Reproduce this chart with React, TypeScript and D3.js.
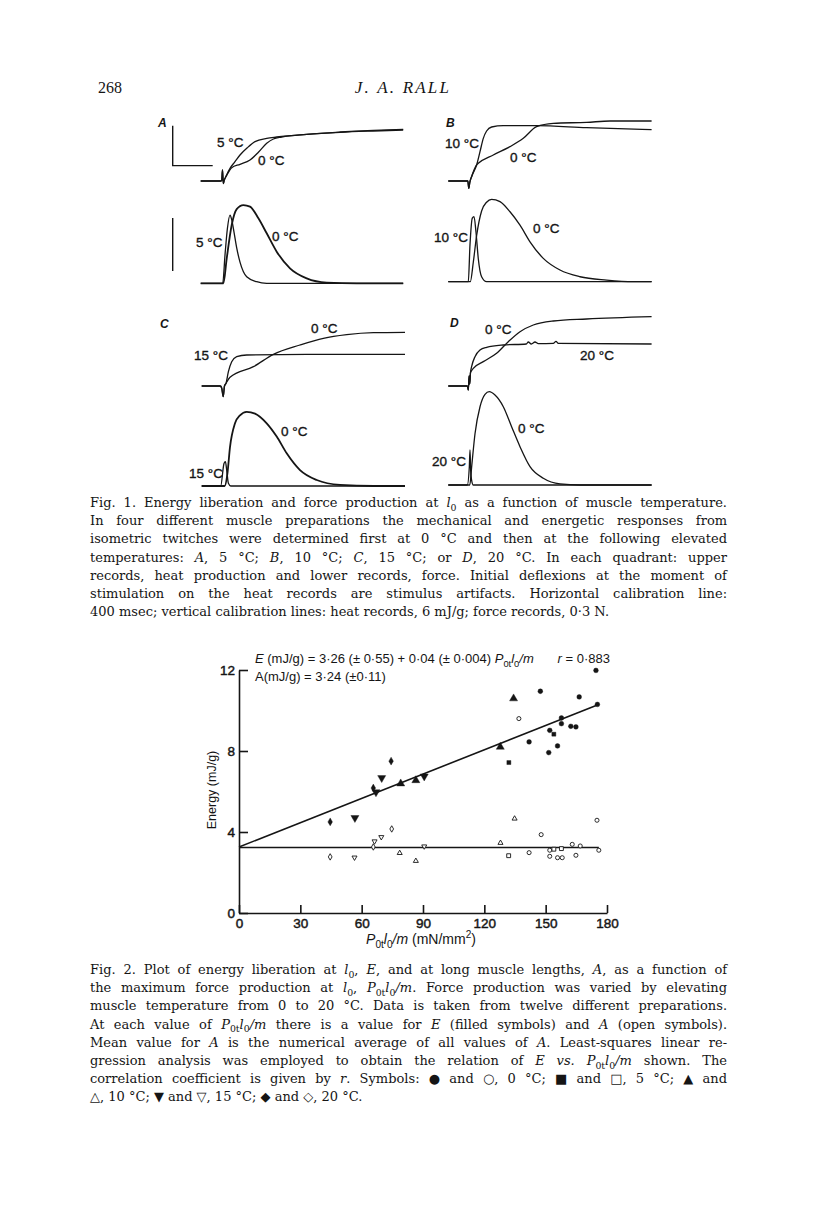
import React, { useRef, useEffect } from "react";
import * as d3 from "d3";

type Pt = [number, number];

// ---------- Fig. 1 records: [ms after stimulus, value] ----------
// heat records, mJ/g above baseline (stimulus artifact included)
const heatA5: Pt[] = [[-210, 0], [-10, 0], [0, 0.1], [8, 1.65], [16, -0.4], [25, 0.1], [40, 0.6], [83, 1.9], [133, 2.9], [183, 3.9], [257, 5.0], [333, 5.9], [450, 6.4], [550, 6.6], [850, 7.0], [1183, 7.3], [1517, 7.5], [1815, 7.65]];
const heatA0: Pt[] = [[-210, 0], [-10, 0], [0, 0.1], [8, 1.65], [16, -0.4], [25, 0.1], [50, 0.85], [100, 2.0], [183, 2.5], [283, 3.15], [367, 4.3], [450, 5.65], [517, 6.3], [600, 6.6], [850, 7.0], [1183, 7.35], [1517, 7.6], [1815, 7.75]];
const heatB10: Pt[] = [[-200, 0], [-5, 0], [5, -1.1], [15, -0.2], [33, 0.65], [83, 2.4], [117, 4.4], [150, 6.4], [183, 7.5], [233, 8.1], [350, 8.3], [683, 8.3], [1183, 8.0], [1833, 7.7]];
const heatB0: Pt[] = [[-200, 0], [-5, 0], [5, -1.1], [15, -0.2], [33, 0.65], [83, 2.4], [100, 2.65], [250, 3.9], [417, 5.15], [550, 6.4], [683, 8.15], [850, 8.65], [1183, 8.8], [1417, 9.0], [1833, 9.0]];
const heatC15: Pt[] = [[-200, 0], [-15, 0], [0, -0.3], [15, -1.6], [28, 0], [43, 0.4], [67, 2.15], [100, 3.65], [150, 4.4], [250, 4.65], [850, 4.75], [1833, 4.75]];
const heatC0: Pt[] = [[-200, 0], [-15, 0], [0, -0.3], [15, -1.6], [28, 0], [43, 0.4], [83, 1.3], [317, 2.9], [517, 4.75], [783, 6.15], [1017, 7.15], [1250, 7.7], [1517, 8.0], [1833, 8.05]];
const heatD20: Pt[] = [[-200, 0], [-10, 0], [0, -0.6], [8, 1.5], [14, 0.3], [22, 2.0], [33, 2.9], [67, 4.4], [117, 5.4], [183, 5.8], [350, 6.15], [580, 6.3], [600, 6.6], [630, 6.3], [667, 6.6], [700, 6.35], [850, 6.4], [877, 6.7], [900, 6.4], [1833, 6.3]];
const heatD0: Pt[] = [[-200, 0], [-10, 0], [0, -0.6], [8, 1.5], [14, 0.3], [22, 2.0], [33, 2.3], [50, 2.65], [150, 3.65], [283, 4.9], [400, 6.65], [517, 8.15], [650, 9.15], [850, 9.75], [1183, 10.05], [1833, 10.4]];

// force records, N
const forceA5: Pt[] = [[-210, 0], [10, 0], [33, 0.16], [57, 0.31], [83, 0.386], [100, 0.36], [123, 0.29], [150, 0.2], [183, 0.12], [250, 0.037], [350, 0.009], [450, 0], [1815, 0]];
const forceA0: Pt[] = [[-210, 0], [17, 0], [50, 0.14], [100, 0.33], [150, 0.42], [217, 0.443], [283, 0.434], [367, 0.368], [450, 0.283], [550, 0.179], [683, 0.085], [850, 0.028], [1050, 0.004], [1350, 0], [1815, 0]];
const forceB10: Pt[] = [[-200, 0], [0, 0], [17, 0.21], [40, 0.36], [57, 0.368], [77, 0.28], [100, 0.13], [133, 0.028], [183, 0], [1833, 0]];
const forceB0: Pt[] = [[-200, 0], [20, 0], [50, 0.11], [83, 0.26], [133, 0.4], [183, 0.45], [233, 0.466], [317, 0.453], [417, 0.396], [517, 0.32], [617, 0.226], [750, 0.132], [917, 0.066], [1117, 0.028], [1383, 0.009], [1650, 0], [1833, 0]];
const forceC15: Pt[] = [[-200, 0], [-10, 0], [23, 0.128], [37, 0.138], [50, 0.09], [67, 0.015], [90, 0], [1833, 0]];
const forceC0: Pt[] = [[-200, 0], [30, 0], [57, 0.07], [83, 0.22], [133, 0.355], [183, 0.4], [250, 0.42], [333, 0.41], [450, 0.355], [550, 0.28], [650, 0.185], [783, 0.09], [950, 0.034], [1183, 0.006], [1517, 0], [1833, 0]];
const forceD20: Pt[] = [[-200, 0], [-10, 0], [10, 0.1], [17, 0.198], [24, 0.08], [33, 0.028], [50, 0], [1833, 0]];
const forceD0: Pt[] = [[-200, 0], [15, 0], [33, 0.1], [67, 0.29], [117, 0.443], [167, 0.513], [210, 0.528], [267, 0.509], [350, 0.443], [433, 0.33], [517, 0.217], [617, 0.104], [750, 0.038], [917, 0.006], [1117, 0], [1833, 0]];

// calibration lines
const CAL_MS = 400;
const CAL_HEAT = 6;
const CAL_FORCE = 0.3;

// ---------- Fig. 2: P0t l0/m (mN/mm2) vs energy (mJ/g) ----------
const E_0C: Pt[] = [[141.9, 8.45], [147.4, 10.95], [151.5, 7.92], [152, 9.02], [155.8, 8.25], [157.7, 9.35], [157.7, 9.63], [162.3, 9.22], [164.8, 9.19], [166.4, 10.67], [174.6, 11.98], [175.3, 10.3]];
const E_5C: Pt[] = [[132, 7.43], [154, 8.83]];
const E_10C: Pt[] = [[79.1, 6.39], [86.5, 6.55], [127.8, 8.2], [134.3, 10.59]];
const E_15C: Pt[] = [[56.7, 4.7], [67, 5.97], [69.8, 6.67], [90.6, 6.75]];
const E_20C: Pt[] = [[44.6, 4.5], [65.7, 6.17], [74.4, 7.5]];
const A_0C: Pt[] = [[136.9, 9.6], [141.9, 2.98], [147.8, 3.87], [152, 3.1], [152, 2.8], [155.8, 2.73], [158.1, 2.73], [163, 3.39], [164.8, 2.85], [166.9, 3.31], [175.1, 4.58], [176, 3.1]];
const A_5C: Pt[] = [[131.9, 2.83], [154, 3.15], [157.7, 3.18]];
const A_10C: Pt[] = [[78.6, 2.96], [86.5, 2.57], [127.9, 3.46], [134.8, 4.66]];
const A_15C: Pt[] = [[56.5, 2.74], [66.3, 3.54], [69.6, 3.75], [90.6, 3.29]];
const A_20C: Pt[] = [[44.6, 2.77], [65.7, 3.26], [74.7, 4.15]];

const xTicks = [0, 30, 60, 90, 120, 150, 180];
const yTicks = [0, 4, 8, 12];

const E_INTERCEPT = 3.26, E_INTERCEPT_SE = 0.55;
const E_SLOPE = 0.04, E_SLOPE_SE = 0.004;
const R_VALUE = 0.883;
const A_MEAN = 3.24, A_MEAN_SE = 0.11;

const fmt = (v: number) => String(v).replace(".", "·");

const caption1 = [
  "Fig. 1. Energy liberation and force production at <i>l</i><s>0</s> as a function of muscle temperature.",
  "In four different muscle preparations the mechanical and energetic responses from",
  "isometric twitches were determined first at 0 °C and then at the following elevated",
  "temperatures: <i>A</i>, 5 °C; <i>B</i>, 10 °C; <i>C</i>, 15 °C; or <i>D</i>, 20 °C. In each quadrant: upper",
  "records, heat production and lower records, force. Initial deflexions at the moment of",
  "stimulation on the heat records are stimulus artifacts. Horizontal calibration line:",
  "400 msec; vertical calibration lines: heat records, 6 mJ/g; force records, 0·3 N.",
];
const caption2 = [
  "Fig. 2. Plot of energy liberation at <i>l</i><s>0</s>, <i>E</i>, and at long muscle lengths, <i>A</i>, as a function of",
  "the maximum force production at <i>l</i><s>0</s>, <i>P</i><s>0t</s><i>l</i><s>0</s><i>/m</i>. Force production was varied by elevating",
  "muscle temperature from 0 to 20 °C. Data is taken from twelve different preparations.",
  "At each value of <i>P</i><s>0t</s><i>l</i><s>0</s><i>/m</i> there is a value for <i>E</i> (filled symbols) and <i>A</i> (open symbols).",
  "Mean value for <i>A</i> is the numerical average of all values of <i>A</i>. Least-squares linear re-",
  "gression analysis was employed to obtain the relation of <i>E vs.</i> <i>P</i><s>0t</s><i>l</i><s>0</s><i>/m</i> shown. The",
  "correlation coefficient is given by <i>r</i>. Symbols: ● and ○, 0 °C; ■ and □, 5 °C; ▲ and",
  "△, 10 °C; ▼ and ▽, 15 °C; ◆ and ◇, 20 °C.",
];

const INK = "#151515";
const SERIF = "'DejaVu Serif', 'Liberation Serif', serif";
const HEAD = "'Liberation Serif', 'Times New Roman', serif";
const SANS = "'Liberation Sans', Arial, sans-serif";

// builds tspans from a tiny markup: <i>italic</i>, <s>sub</s>, <u>sup</u>
function rich(sel: any, markup: string, size: number) {
  const parts = markup.split(/(<[isu]>[^<]*<\/[isu]>)/).filter((s) => s.length);
  let cur = 0;
  parts.forEach((p) => {
    const m = p.match(/^<([isu])>([^<]*)<\/[isu]>$/);
    const ts = sel.append("tspan");
    let off = 0;
    if (m) {
      if (m[1] === "i") ts.attr("font-style", "italic");
      if (m[1] === "s") { off = size * 0.28; ts.attr("font-size", size * 0.72); }
      if (m[1] === "u") { off = -size * 0.4; ts.attr("font-size", size * 0.72); }
      ts.text(m[2]);
    } else ts.text(p);
    if (off !== cur) { ts.attr("dy", off - cur); cur = off; }
  });
}

function justify(t: any, width: number) {
  const node = t.node();
  const len = node.getComputedTextLength();
  const n = (node.textContent.match(/ /g) || []).length;
  if (n) t.attr("word-spacing", ((width - len) / n).toFixed(2));
}

function App() {
  const ref = useRef<SVGSVGElement>(null);

  useEffect(() => {
    const svg = d3.select(ref.current);
    svg.selectAll("*").remove();
    svg.append("rect").attr("width", 816).attr("height", 1212).attr("fill", "#fff");

    // ---- page head ----
    svg.append("text").attr("x", 98).attr("y", 93).attr("font-family", HEAD)
      .attr("font-size", 16).attr("fill", INK).text("268");
    svg.append("text").attr("x", 403).attr("y", 93).attr("text-anchor", "middle")
      .attr("font-family", HEAD).attr("font-style", "italic").attr("font-size", 17)
      .attr("letter-spacing", 2.2).attr("fill", INK).text("J. A. RALL");

    // ---- Fig. 1 ----
    const quads = [
      { stimX: 221.7, heatBase: 181, forceBase: 283.3, heat: [heatA5, heatA0], force: [forceA5, forceA0], thick: 1,
        letter: "A", letterAt: [158, 127], cal: true,
        labels: [["5 °C", 217, 147], ["0 °C", 258, 165], ["5 °C", 196, 247], ["0 °C", 272, 241]] },
      { stimX: 468.3, heatBase: 181, forceBase: 281.7, heat: [heatB10, heatB0], force: [forceB10, forceB0], thick: -1,
        letter: "B", letterAt: [446, 127], cal: false,
        labels: [["10 °C", 445, 148], ["0 °C", 510, 162], ["10 °C", 434, 242], ["0 °C", 533, 233]] },
      { stimX: 221.7, heatBase: 386, forceBase: 486, heat: [heatC15, heatC0], force: [forceC15, forceC0], thick: 1,
        letter: "C", letterAt: [160, 328], cal: false,
        labels: [["15 °C", 194, 360], ["0 °C", 311, 333], ["15 °C", 189, 478], ["0 °C", 281, 436]] },
      { stimX: 468.3, heatBase: 386, forceBase: 485, heat: [heatD20, heatD0], force: [forceD20, forceD0], thick: -1,
        letter: "D", letterAt: [450, 327], cal: false,
        labels: [["0 °C", 485, 334], ["20 °C", 580, 360], ["20 °C", 432, 466], ["0 °C", 518, 433]] },
    ];

    quads.forEach((q) => {
      const g = svg.append("g");
      const x = d3.scaleLinear().domain([0, CAL_MS]).range([q.stimX, q.stimX + 40]);
      const yh = d3.scaleLinear().domain([0, CAL_HEAT]).range([q.heatBase, q.heatBase - 40]);
      const yf = d3.scaleLinear().domain([0, CAL_FORCE]).range([q.forceBase, q.forceBase - 53]);
      const lineH = d3.line<Pt>().x((d) => x(d[0])).y((d) => yh(d[1])).curve(d3.curveMonotoneX);
      const lineF = d3.line<Pt>().x((d) => x(d[0])).y((d) => yf(d[1])).curve(d3.curveMonotoneX);

      q.heat.forEach((rec) => {
        g.append("path").attr("d", lineH(rec)).attr("fill", "none").attr("stroke", INK).attr("stroke-width", 1.3);
      });
      q.force.forEach((rec, i) => {
        g.append("path").attr("d", lineF(rec)).attr("fill", "none").attr("stroke", INK)
          .attr("stroke-width", q.thick > 0 && i === 1 ? 1.8 : 1.3);
      });

      if (q.cal) {
        const cx = x(-490);
        g.append("path").attr("fill", "none").attr("stroke", INK).attr("stroke-width", 1.4)
          .attr("d", `M${cx},${yh(2.3 + CAL_HEAT)}V${yh(2.3)}H${x(-490 + CAL_MS)}`);
        g.append("line").attr("x1", cx).attr("x2", cx).attr("y1", yf(0.07)).attr("y2", yf(0.07 + CAL_FORCE))
          .attr("stroke", INK).attr("stroke-width", 1.4);
      }

      g.append("text").attr("x", q.letterAt[0]).attr("y", q.letterAt[1]).attr("font-family", SANS)
        .attr("font-style", "italic").attr("font-weight", "bold").attr("font-size", 12)
        .attr("fill", INK).text(q.letter);
      q.labels.forEach(([t, lx, ly]) => {
        g.append("text").attr("x", lx).attr("y", ly).attr("font-family", SANS).attr("font-size", 13.5)
          .attr("fill", INK).attr("stroke", INK).attr("stroke-width", 0.35).text(t as string);
      });
    });

    const drawCaption = (lines: string[], y0: number) => {
      lines.forEach((ln, i) => {
        const t = svg.append("text").attr("x", 90).attr("y", y0 + i * 18.2)
          .attr("font-family", SERIF).attr("font-size", 13).attr("fill", INK);
        rich(t, ln, 13);
        if (i < lines.length - 1) justify(t, 637);
      });
    };
    drawCaption(caption1, 507);

    // ---- Fig. 2 ----
    const x = d3.scaleLinear().domain([0, 180]).range([239, 607]);
    const y = d3.scaleLinear().domain([0, 12]).range([913, 670]);
    const p = svg.append("g");

    const ax = p.append("g").attr("transform", `translate(0,${y(0)})`)
      .call(d3.axisBottom(x).tickValues(xTicks).tickSize(-8).tickSizeOuter(0).tickPadding(5));
    const ay = p.append("g").attr("transform", `translate(${x(0)},0)`)
      .call(d3.axisLeft(y).tickValues(yTicks).tickSize(-9).tickSizeOuter(0).tickPadding(4));
    [ax, ay].forEach((a) => {
      a.attr("font-family", SANS).attr("font-size", 13.5);
      a.selectAll("path,line").attr("stroke", INK).attr("stroke-width", 1.6);
      a.selectAll("text").attr("fill", INK).attr("stroke", INK).attr("stroke-width", 0.45);
    });

    const xt = p.append("text").attr("x", 421).attr("y", 944).attr("text-anchor", "middle")
      .attr("font-family", SANS).attr("font-size", 14).attr("fill", INK);
    rich(xt, "<i>P</i><s>0t</s><i>l</i><s>0</s><i>/m</i> (mN/mm<u>2</u>)", 14);
    p.append("text").attr("transform", "translate(216,790) rotate(-90)").attr("text-anchor", "middle")
      .attr("font-family", SANS).attr("font-size", 12.5).attr("fill", INK).text("Energy (mJ/g)");

    const eq1 = p.append("text").attr("x", 255).attr("y", 663).attr("font-family", SANS)
      .attr("font-size", 13).attr("fill", INK);
    rich(eq1, `<i>E</i> (mJ/g) = ${fmt(E_INTERCEPT)} (± ${fmt(E_INTERCEPT_SE)}) + ${fmt(E_SLOPE)} (± ${fmt(E_SLOPE_SE)}) <i>P</i><s>0t</s><i>l</i><s>0</s><i>/m</i>`, 13);
    const rt = p.append("text").attr("x", 610).attr("y", 663).attr("text-anchor", "end")
      .attr("font-family", SANS).attr("font-size", 13).attr("fill", INK);
    rich(rt, `<i>r</i> = ${fmt(R_VALUE)}`, 13);
    p.append("text").attr("x", 255).attr("y", 681).attr("font-family", SANS)
      .attr("font-size", 13).attr("fill", INK).text(`A(mJ/g) = ${fmt(A_MEAN)} (±${fmt(A_MEAN_SE)})`);

    // regression line for E and mean line for A
    const allE = [...E_0C, ...E_5C, ...E_10C, ...E_15C, ...E_20C];
    const allA = [...A_0C, ...A_5C, ...A_10C, ...A_15C, ...A_20C];
    const eMax = d3.max(allE, (d) => d[0]) as number;
    const aMax = d3.max(allA, (d) => d[0]) as number;
    p.append("line").attr("x1", x(0)).attr("y1", y(E_INTERCEPT)).attr("x2", x(eMax))
      .attr("y2", y(E_INTERCEPT + E_SLOPE * eMax)).attr("stroke", INK).attr("stroke-width", 1.6);
    p.append("line").attr("x1", x(0)).attr("y1", y(A_MEAN)).attr("x2", x(aMax))
      .attr("y2", y(A_MEAN)).attr("stroke", INK).attr("stroke-width", 1.5);

    const series: [Pt[], any, number, boolean, number][] = [
      [E_0C, d3.symbolCircle, 18, true, 0], [E_5C, d3.symbolSquare, 16, true, 0],
      [E_10C, d3.symbolTriangle, 28, true, 0], [E_15C, d3.symbolTriangle, 28, true, 180],
      [E_20C, d3.symbolDiamond, 18, true, 0],
      [A_0C, d3.symbolCircle, 13, false, 0], [A_5C, d3.symbolSquare, 15, false, 0],
      [A_10C, d3.symbolTriangle, 11, false, 0], [A_15C, d3.symbolTriangle, 11, false, 180],
      [A_20C, d3.symbolDiamond, 12, false, 0],
    ];
    series.forEach(([pts, type, size, filled, rot]) => {
      p.append("g").selectAll("path").data(pts).join("path")
        .attr("transform", (d) => `translate(${x(d[0])},${y(d[1])}) rotate(${rot})`)
        .attr("d", d3.symbol().type(type).size(size)())
        .attr("fill", filled ? INK : "#fff").attr("stroke", INK).attr("stroke-width", filled ? 0.4 : 0.9);
    });

    drawCaption(caption2, 974);
  }, []);

  return (
    <svg ref={ref} width={816} height={1212} style={{ position: "absolute", left: 0, top: 0 }} />
  );
}

export default App;
